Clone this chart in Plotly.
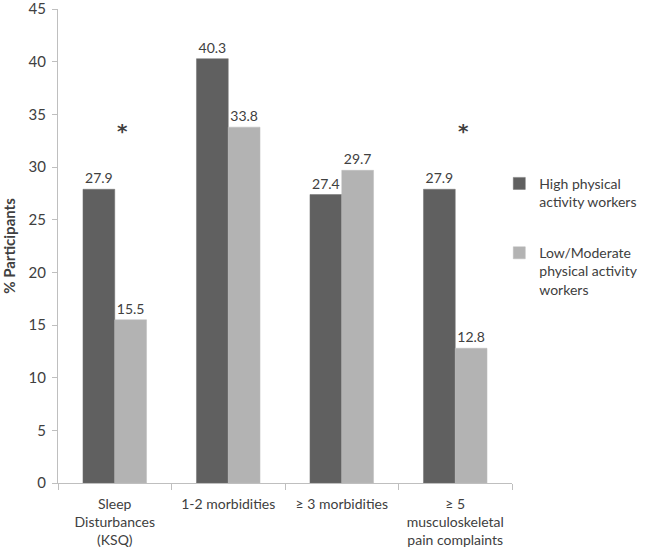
import plotly.graph_objects as go

categories = ["Sleep<br>Disturbances<br>(KSQ)", "1-2 morbidities", "≥ 3 morbidities",
              "≥ 5<br>musculoskeletal<br>pain complaints"]
high_name = "High physical<br>activity workers"
low_name = "Low/Moderate<br>physical activity<br>workers"
high_vals = [27.9, 40.3, 27.4, 27.9]
low_vals = [15.5, 33.8, 29.7, 12.8]
sig_categories = [categories[0], categories[3]]
sig_level = 33.4
y_ticks = [0, 5, 10, 15, 20, 25, 30, 35, 40, 45]

FONT = "Lato, 'Open Sans', sans-serif"
TXT = "#404040"

fig = go.Figure()
fig.add_trace(go.Bar(x=categories, y=high_vals, name=high_name, legendgroup="a",
                     marker=dict(color="#606060", line=dict(color="#707070", width=0.5)),
                     text=[f"{v:.1f}" for v in high_vals], textposition="outside",
                     textfont=dict(size=14, color=TXT, family=FONT), cliponaxis=False))
fig.add_trace(go.Bar(x=categories, y=low_vals, name=low_name, legendgroup="b",
                     marker=dict(color="#b3b3b3", line=dict(color="#bdbdbd", width=0.5)),
                     text=[f"{v:.1f}" for v in low_vals], textposition="outside",
                     textfont=dict(size=14, color=TXT, family=FONT), cliponaxis=False))

for c in sig_categories:
    fig.add_annotation(x=c, y=sig_level, text="<b>*</b>", showarrow=False, xshift=8,
                       font=dict(size=20, color="#404040", family="DejaVu Sans"))

fig.update_layout(
    width=650, height=556,
    margin=dict(l=58, r=138, t=9, b=73, pad=0, autoexpand=False),
    paper_bgcolor="white", plot_bgcolor="white",
    barmode="group", bargap=0.44, bargroupgap=0,
    font=dict(family=FONT, size=14, color=TXT),
    showlegend=True,
    legend=dict(x=0.972, y=0.665, xanchor="left", yanchor="top", valign="top",
                font=dict(size=14, color=TXT, family=FONT), tracegroupgap=30,
                itemwidth=30, traceorder="grouped"),
    xaxis=dict(showline=True, linecolor="#bfbfbf", linewidth=1, ticks="outside",
               tickson="boundaries", ticklen=6, tickcolor="#bfbfbf", tickangle=0,
               automargin=False, ticklabelstandoff=8,
               tickfont=dict(size=14, color=TXT, family=FONT), showgrid=False),
    yaxis=dict(range=[0, 45.02], tickvals=y_ticks, showline=True, linecolor="#bfbfbf",
               linewidth=1, ticks="outside", ticklen=5, tickcolor="#bfbfbf",
               showgrid=False, zeroline=False, automargin=False,
               ticklabeloverflow="allow", ticklabelstandoff=3,
               tickfont=dict(size=15, color=TXT, family=FONT),
               title=dict(text="<b>% Participants</b>", standoff=10,
                          font=dict(size=15, color=TXT, family=FONT))),
)

fig.write_html("out.html", config={"displayModeBar": False},
               post_script="document.body.style.margin='0';document.body.style.overflow='hidden';")
